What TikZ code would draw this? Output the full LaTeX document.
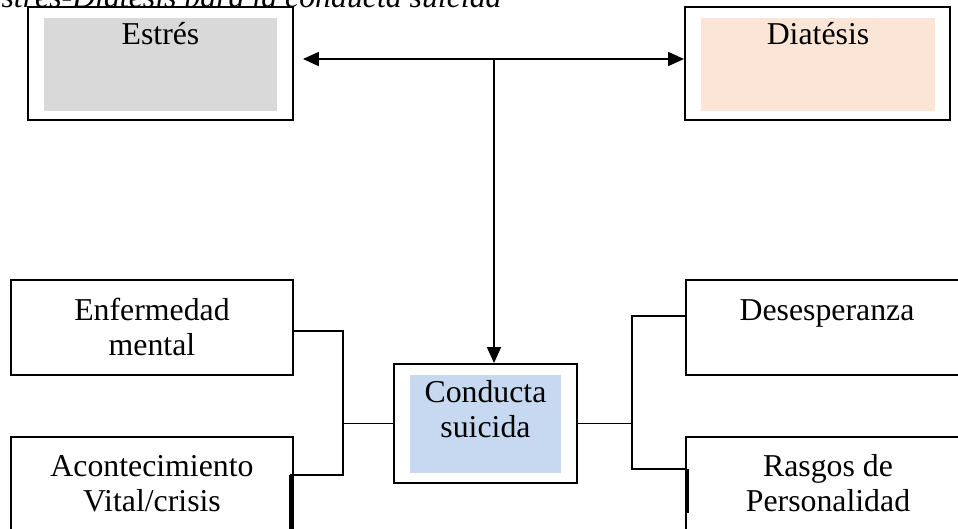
\documentclass[tikz,border=0pt]{standalone}
\usepackage{fontspec}
\setmainfont{Liberation Serif}
\usetikzlibrary{arrows.meta}
\definecolor{greyfill}{HTML}{D9D9D9}
\definecolor{peachfill}{HTML}{FBE5D6}
\definecolor{bluefill}{HTML}{C6D9F1}
\tikzset{
  box/.style={draw=black, line width=1.9pt, fill=white, rectangle, inner sep=0pt},
  fillbox/.style={rectangle, inner sep=0pt, draw=none},
  txt/.style={inner sep=0pt, anchor=base, font=\fontsize{31.8}{35}\selectfont},
  conn/.style={draw=black, line width=1.7pt},
  arr/.style={conn, -{Triangle[length=16pt,width=14pt]}},
  thickedge/.style={draw=black, line width=3pt}
}
\begin{document}
\begin{tikzpicture}[x=1pt,y=-1pt]
\useasboundingbox (0,0) rectangle (958,529);
% title
\node[inner sep=0pt, anchor=base west, font=\fontsize{31.8}{35}\selectfont\itshape] (title) at (-18,8) {Estrés-Diátesis para la conducta suicida};
% top boxes
\node[box, minimum width=265, minimum height=113] (estres) at (160.5,63.5) {};
\node[fillbox, fill=greyfill, minimum width=233, minimum height=93] (estresin) at (160.5,64.5) {};
\node[txt] (estrestxt) at (160.5,45) {Estrés};
\node[box, minimum width=265, minimum height=113] (diatesis) at (817.5,63.5) {};
\node[fillbox, fill=peachfill, minimum width=234, minimum height=93] (diatesisin) at (818,64.5) {};
\node[txt] (diatesistxt) at (818,45) {Diatésis};
% center box
\node[box, minimum width=183, minimum height=119] (conducta) at (485.5,423.5) {};
\node[fillbox, fill=bluefill, minimum width=151, minimum height=98] (conductain) at (485.5,424) {};
\node[txt] (conducta1) at (485.5,402) {Conducta};
\node[txt] (conducta2) at (485.5,437) {suicida};
% left boxes
\node[box, minimum width=282, minimum height=95] (enf) at (152,327.5) {};
\node[txt] (enf1) at (152,320) {Enfermedad};
\node[txt] (enf2) at (152,355) {mental};
\node[box, minimum width=282, minimum height=95] (acon) at (152,484.5) {};
\node[txt] (acon1) at (152,476) {Acontecimiento};
\node[txt] (acon2) at (152,511) {Vital/crisis};
% right boxes
\node[box, minimum width=282, minimum height=95] (des) at (827,327.5) {};
\node[txt] (des1) at (827,320) {Desesperanza};
\node[box, minimum width=282, minimum height=95] (ras) at (827,484.5) {};
\node[txt] (ras1) at (828,476) {Rasgos de};
\node[txt] (ras2) at (828,511) {Personalidad};
% coordinates
\coordinate (top) at (494,59);
\coordinate (jl) at (343,423.5);
\coordinate (al) at (290,475);
\coordinate (alb) at (290,532);
\coordinate (jr) at (632,423.5);
\coordinate (rl) at (687,469);
\coordinate (rlb) at (687,513);
% arrows
\draw[arr] (top) -- ([xshift=9pt]estres.east |- top);
\draw[arr] (top) -- (diatesis.west |- top);
\draw[arr] (top) -- (top |- conducta.north);
% left connectors
\draw[conn] ([yshift=-3.5pt]enf.east) -| (jl) |- (al);
\draw[conn] (jl) -- (conducta.west);
\draw[thickedge] (al) -- (alb);
% right connectors
\draw[conn] (conducta.east) -- (jr);
\draw[conn] ([yshift=11.5pt]des.west) -| (jr) |- (rl);
\draw[thickedge] (rl) -- (rlb);
\end{tikzpicture}
\end{document}
